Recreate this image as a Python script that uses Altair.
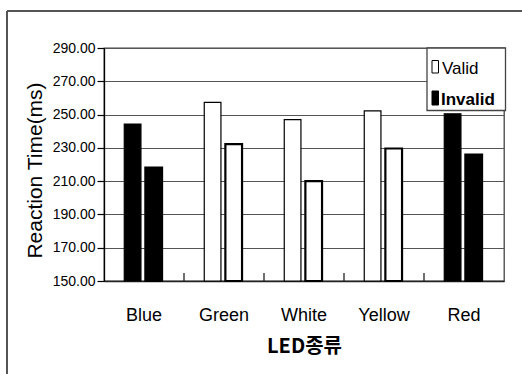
import altair as alt
import pandas as pd

leds = ["Blue", "Green", "White", "Yellow", "Red"]
valid = [244.3, 257.3, 247.0, 252.2, 250.5]
invalid = [218.2, 232.2, 210.0, 229.6, 226.0]
conds = ["Valid", "Invalid"]
y_ticks = [150, 170, 190, 210, 230, 250, 270, 290]
y_min, y_max = 150, 290

rows = []
for i, led in enumerate(leds):
    rows.append({"LED": led, "cond": "Valid", "value": valid[i]})
    rows.append({"LED": led, "cond": "Invalid", "value": invalid[i]})
df = pd.DataFrame(rows)
df_leg = pd.DataFrame({"cond": conds})
one = pd.DataFrame({"k": [0]})

FONT = "Liberation Sans"

x_axis = alt.Axis(
    title="LED종류", labelAngle=0, ticks=False, domainColor="#222", domainWidth=1.3,
    labelFontSize=18, labelFont=FONT, labelPadding=25, labelColor="black",
    titleFont="Noto Sans CJK KR", titleFontSize=20, titleFontWeight="bold",
    titleBaseline="middle", titleY=65, titleColor="black",
)
y_axis = alt.Axis(
    values=y_ticks, format=".2f", grid=True, gridColor="#555", gridWidth=1.2,
    domainColor="black", domainWidth=1.3, tickColor="black", tickSize=7, tickWidth=1.2,
    labelFontSize=14, labelFont=FONT, labelPadding=2, labelColor="black", labelFlush=False,
    labelOverlap=False,
    title="Reaction Time(ms)", titleFont=FONT, titleFontSize=21, titleFontWeight="normal",
    titleX=-69, titleY=122, titleAngle=270, titleBaseline="middle", titleAlign="center",
    titleColor="black",
)
y_scale = alt.Scale(domain=[y_min, y_max], nice=False, zero=False)

bars = alt.Chart(df).transform_calculate(
    fillc="indexof(['Blue','Red'], datum.LED) >= 0 ? 'black' : 'white'",
    sw="datum.cond == 'Invalid' ? 2.2 : 1.2",
).mark_bar(stroke="black").encode(
    x=alt.X("LED:N", sort=leds, scale=alt.Scale(paddingInner=0, paddingOuter=0), axis=x_axis),
    xOffset=alt.XOffset("cond:N", sort=conds,
                        scale=alt.Scale(paddingInner=0.21, paddingOuter=1, align=0.48)),
    y=alt.Y("value:Q", scale=y_scale, axis=y_axis),
    y2=alt.datum(y_min),
    fill=alt.Fill("fillc:N", scale=None),
    strokeWidth=alt.StrokeWidth("sw:Q", scale=None),
)

ticks = alt.Chart(df).transform_filter(
    "datum.cond == 'Valid' && datum.LED != 'Blue'"
).mark_rule(color="#222", strokeWidth=1.3).encode(
    x=alt.X("LED:N", sort=leds, bandPosition=0, title="LED종류"),
    y=alt.value(233),
    y2=alt.value(225),
)

frame_left = alt.Chart(one).mark_rule(color="#555", strokeWidth=2).encode(
    x=alt.value(-97), y=alt.value(-37), y2=alt.value(330))
frame_top = alt.Chart(one).mark_rule(color="#555", strokeWidth=2).encode(
    x=alt.value(-97), x2=alt.value(420), y=alt.value(-37))

leg_box = alt.Chart(one).mark_rect(fill="white", stroke="#444", strokeWidth=1.3).encode(
    x=alt.value(323), x2=alt.value(401.5), y=alt.value(0), y2=alt.value(62.5))
leg_sym_valid = alt.Chart(df_leg).transform_filter("datum.cond == 'Valid'").mark_rect(
    fill="white", stroke="black", strokeWidth=1).encode(
    x=alt.value(328), x2=alt.value(334.5), y=alt.value(12.5), y2=alt.value(25))
leg_sym_invalid = alt.Chart(df_leg).transform_filter("datum.cond == 'Invalid'").mark_rect(
    fill="black", stroke="black", strokeWidth=1).encode(
    x=alt.value(328), x2=alt.value(334.5), y=alt.value(43), y2=alt.value(57))
leg_txt_valid = alt.Chart(df_leg).transform_filter("datum.cond == 'Valid'").mark_text(
    font=FONT, fontSize=17, align="left", baseline="alphabetic", color="black").encode(
    x=alt.value(338), y=alt.value(25.5), text="cond:N")
leg_txt_invalid = alt.Chart(df_leg).transform_filter("datum.cond == 'Invalid'").mark_text(
    font=FONT, fontSize=17, fontWeight="bold", align="left", baseline="alphabetic",
    color="black").encode(
    x=alt.value(337), y=alt.value(57), text="cond:N")

chart = alt.layer(
    bars, ticks, frame_left, frame_top, leg_box,
    leg_sym_valid, leg_sym_invalid, leg_txt_valid, leg_txt_invalid,
).properties(
    width=400, height=233,
    padding={"left": 104, "top": 48, "right": 18, "bottom": 93},
    autosize=alt.AutoSizeParams(type="none"),
    background="white",
).configure_view(stroke="#444", strokeWidth=1.3)

chart.save("out.html", embed_options={"renderer": "svg", "actions": False})
